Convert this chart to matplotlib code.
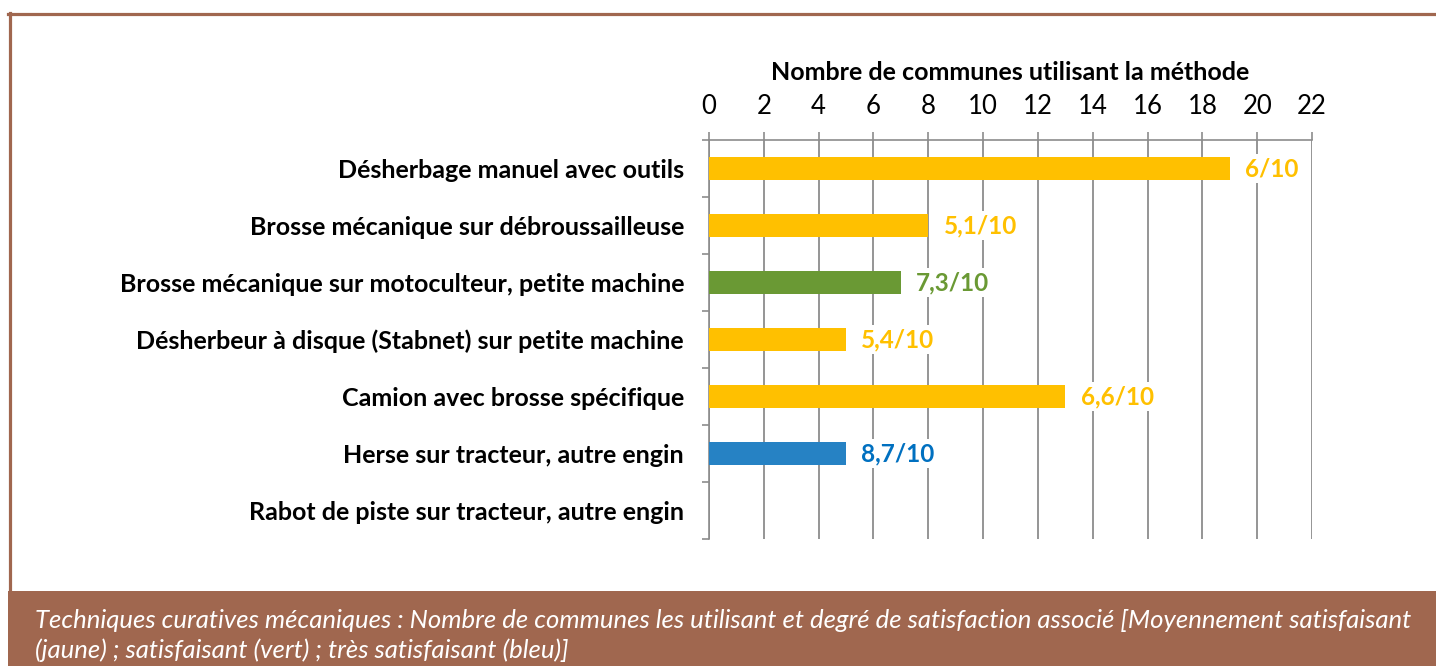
import matplotlib.pyplot as plt
from matplotlib.patches import Rectangle
from matplotlib.lines import Line2D

W, H = 1436, 666
FONT = "Lato"

categories = [
    "Désherbage manuel avec outils",
    "Brosse mécanique sur débroussailleuse",
    "Brosse mécanique sur motoculteur, petite machine",
    "Désherbeur à disque (Stabnet) sur petite machine",
    "Camion avec brosse spécifique",
    "Herse sur tracteur, autre engin",
    "Rabot de piste sur tracteur, autre engin",
]
counts = [19, 8, 7, 5, 13, 5, 0]
scores = ["6/10", "5,1/10", "7,3/10", "5,4/10", "6,6/10", "8,7/10", ""]
levels = ["jaune", "jaune", "vert", "jaune", "jaune", "bleu", "jaune"]
x_ticks = [0, 2, 4, 6, 8, 10, 12, 14, 16, 18, 20, 22]

bar_colors = {"jaune": "#FFC000", "vert": "#6A9934", "bleu": "#2682C4"}
text_colors = {"jaune": "#FFC000", "vert": "#6A9934", "bleu": "#0070C0"}
BROWN = "#A0674F"
GRID = "#8C8C8C"

plt.rcParams["font.family"] = [FONT, "DejaVu Sans"]

fig = plt.figure(figsize=(W / 100, H / 100), dpi=100)

# frame: top and left brown lines, caption band
fig.add_artist(Line2D([8 / W, 1], [1 - 13.5 / H, 1 - 13.5 / H], color=BROWN, lw=2.3))
fig.add_artist(Line2D([9.5 / W, 9.5 / W], [1 - 13 / H, 1 - 627 / H], color=BROWN, lw=2.3))
fig.add_artist(Rectangle((8 / W, 0), 1 - 8 / W, 75 / H, color=BROWN, lw=0))
fig.text(35 / W, 1 - 620 / H,
         "Techniques curatives mécaniques : Nombre de communes les utilisant et degré de satisfaction associé [Moyennement satisfaisant",
         color="white", style="italic", fontsize=18.5, va="center", ha="left")
fig.text(35 / W, 1 - 650 / H,
         "(jaune) ; satisfaisant (vert) ; très satisfaisant (bleu)]",
         color="white", style="italic", fontsize=18.5, va="center", ha="left")

ax = fig.add_axes([709 / W, 1 - 539 / H, 603 / W, 399 / H])
ypos = list(range(len(categories)))
ax.barh(ypos, counts, height=0.4,
        color=[bar_colors[l] for l in levels], zorder=3)

for y, c, s, l in zip(ypos, counts, scores, levels):
    if s:
        ax.annotate(s, (c, y), xytext=(11, 0), textcoords="offset points",
                    va="center", ha="left", fontsize=17.5, fontweight="bold",
                    color=text_colors[l], zorder=4,
                    bbox=dict(facecolor="white", edgecolor="none", pad=2))

ax.set_xlim(0, 22)
ax.set_ylim(len(categories) - 0.5, -0.5)
ax.set_xticks(x_ticks)
ax.xaxis.tick_top()
ax.xaxis.set_label_position("top")
ax.set_xlabel("Nombre de communes utilisant la méthode", fontsize=18,
              fontweight="bold", labelpad=10)
ax.tick_params(axis="x", top=True, length=6, width=1.2, color=GRID,
               labelsize=18.5, pad=9)
ax.set_yticks(ypos)
ax.set_yticklabels(categories, fontsize=18, fontweight="bold")
ax.set_yticks([i + 0.5 for i in range(-1, len(categories))], minor=True)
ax.tick_params(axis="y", which="major", length=0, pad=18)
ax.tick_params(axis="y", which="minor", length=5, width=1.2, color=GRID)

ax.grid(axis="x", color=GRID, lw=1.3, zorder=0)
ax.set_axisbelow(True)
for side in ["right", "bottom"]:
    ax.spines[side].set_visible(False)
for side in ["top", "left"]:
    ax.spines[side].set_color(GRID)
    ax.spines[side].set_linewidth(1.2)

fig.savefig("out.png", dpi=100, facecolor="white")
